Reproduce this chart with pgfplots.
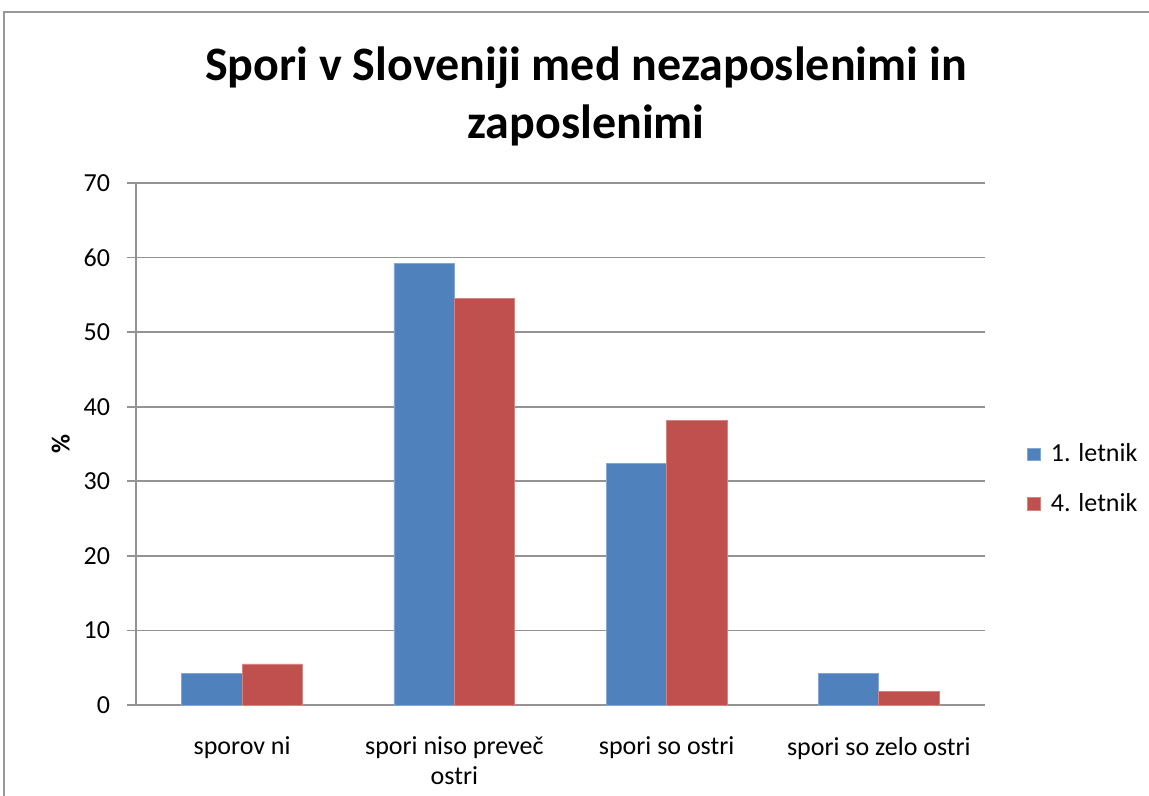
\documentclass[border=0pt]{standalone}
\usepackage{fontspec}
\setmainfont{Carlito}
\usepackage{pgfplots}
\pgfplotsset{compat=1.18}
\definecolor{serA}{HTML}{4F81BD}
\definecolor{serB}{HTML}{C0504D}
\begin{document}
\begin{tikzpicture}
\begin{axis}[
  at={(0,0)}, anchor=south west,
  width=424.5pt, height=261pt, scale only axis,
  ybar=0pt, bar width=30.2pt,
  xmin=-0.5, xmax=3.5, ymin=0, ymax=70,
  xtick={0,1,2,3},
  xticklabels={sporov ni, {spori niso preveč\\ostri}, spori so ostri, spori so zelo ostri},
  xticklabel style={align=center, font=\fontsize{13}{15}\selectfont, yshift=-8pt},
  ytick={0,10,...,70},
  yticklabel style={font=\fontsize{13}{15}\selectfont, xshift=-5pt},
  /pgf/number format/assume math mode=true,
  ymajorgrids, grid style={draw=gray!85, line width=0.9pt},
  axis x line*=bottom, axis y line*=left,
  axis line style={draw=gray!85, line width=0.9pt},
  x axis line style={-}, y axis line style={-},
  major tick length=4.5pt,
  xtick style={draw=none},
  ytick style={draw=gray!85, line width=0.9pt},
  tick align=outside,
  ylabel={\textbf{\%}}, ylabel style={font=\fontsize{13}{15}\selectfont, yshift=0pt},
  legend style={draw=none, at={(1.0425,0.433)}, anchor=west,
    font=\fontsize{13}{15}\selectfont, row sep=10pt},
  legend cell align=left,
  legend image code/.code={\path[draw=none, fill=none] (0pt,0pt) -- (9.5pt,0pt);
    \fill[#1] (0pt,-3.2pt) rectangle (6.4pt,3.2pt);},
]
\addplot[fill=serA, draw=serA!70!white] coordinates {(0,4.2) (1,59.2) (2,32.4) (3,4.2)};
\addplot[fill=serB, draw=serB!70!white] coordinates {(0,5.5) (1,54.5) (2,38.2) (3,1.8)};
\legend{1. letnik, 4. letnik}
\end{axis}
\node[align=center, font=\fontsize{24}{29}\selectfont\bfseries] at (225pt,304.5pt)
  {Spori v Sloveniji med nezaposlenimi in\\zaposlenimi};
\pgfresetboundingbox
\useasboundingbox (-68pt,-45.5pt) rectangle (506.5pt,352.5pt);
\draw[gray!80, line width=0.9pt] (-66pt,-46pt) -- (-66pt,346.5pt) -- (507pt,346.5pt);
\end{tikzpicture}
\end{document}
